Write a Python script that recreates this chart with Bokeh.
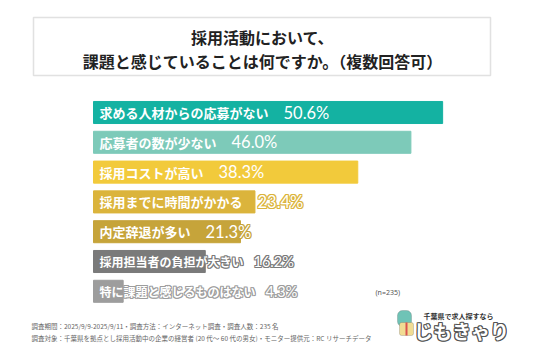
from bokeh.plotting import figure
from bokeh.models import Range1d, ColumnDataSource, Label, BoxAnnotation
from bokeh.core.properties import value
from bokeh.embed import file_html
from bokeh.resources import INLINE

categories = ["求める人材からの応募がない", "応募者の数が少ない", "採用コストが高い",
              "採用までに時間がかかる", "内定辞退が多い", "採用担当者の負担が大きい",
              "特に課題と感じるものはない"]
values = [50.6, 46.0, 38.3, 23.4, 21.3, 16.2, 4.3]
colors = ["#14b2a2", "#7dcab9", "#f2ca3b", "#dbb43c", "#c6a43a", "#7a7a7a", "#9d9d9d"]
title_lines = ["採用活動において、", "課題と感じていることは何ですか。（複数回答可）"]
footer_lines = ["調査期間：2025/9/9-2025/9/11・調査方法：インターネット調査・調査人数：235 名",
                "調査対象：千葉県を拠点とし採用活動中の企業の経営者 (20 代～ 60 代の男女)・モニター提供元：RC リサーチデータ"]
n_label = "(n=235)"

# styling per row (label sizes)
cat_sizes = [13, 13, 13, 13, 13, 12, 12]
pct_sizes = [16.5, 16.5, 16.5, 16.5, 16.5, 14.5, 14.5]
gaps = [15, 15, 15, 15, 15, 10, 10]

W, H = 536, 357
PX_PER_PCT = 6.9
BAR_X0 = 93
PITCH = 29.8
ROW0 = 112

JP = "Noto Sans CJK JP"

p = figure(width=W, height=H, output_backend="svg", toolbar_location=None,
           x_range=Range1d(-BAR_X0 / PX_PER_PCT, (W - BAR_X0) / PX_PER_PCT),
           y_range=Range1d((H - ROW0) / PITCH, -ROW0 / PITCH),
           min_border=0, outline_line_color=None)
p.axis.visible = False
p.grid.visible = False
p.background_fill_color = "white"
p.border_fill_color = "white"

ys = list(range(len(categories)))
data = dict(y=ys, v=values, c=colors, cat=categories,
            pct=[f"{v:.1f}%" for v in values],
            zero=[0] * len(values),
            cs=[f"{s}px" for s in cat_sizes],
            ps=[f"{s}px" for s in pct_sizes])
pct_base = [6 + len(c) * s + g for c, s, g in zip(categories, cat_sizes, gaps)]
offsets = [(-1, 0), (1, 0), (0, -1), (0, 1), (-1, -1), (1, 1), (-1, 1), (1, -1)]
for k, (dx, dy) in enumerate(offsets):
    data[f"cx{k}"] = [6 + dx] * len(values)
    data[f"px{k}"] = [b + dx for b in pct_base]
data["cx"] = [6] * len(values)
data["px"] = pct_base
src = ColumnDataSource(data)

p.hbar(y="y", left=0, right="v", height=0.74, fill_color="c", line_color="c", source=src)

for k, (dx, dy) in enumerate(offsets):
    p.text(x="zero", y="y", text="cat", x_offset=f"cx{k}", y_offset=dy, source=src,
           text_font=value(JP), text_font_style="bold", text_font_size="cs",
           text_color="c", text_baseline="middle", text_align="left")
    p.text(x="zero", y="y", text="pct", x_offset=f"px{k}", y_offset=dy, source=src,
           text_font=value("Lato"), text_font_size="ps",
           text_color="c", text_baseline="middle", text_align="left")
p.text(x="zero", y="y", text="cat", x_offset="cx", source=src,
       text_font=value(JP), text_font_style="bold", text_font_size="cs",
       text_color="white", text_baseline="middle", text_align="left")
p.text(x="zero", y="y", text="pct", x_offset="px", source=src,
       text_font=value("Lato"), text_font_size="ps",
       text_color="white", text_baseline="middle", text_align="left")

# title box
p.add_layout(BoxAnnotation(left=33, right=490, top=H - 17, bottom=H - 75,
                           left_units="screen", right_units="screen",
                           top_units="screen", bottom_units="screen",
                           fill_color=None, line_color="#9a9a9a", line_width=1.5))
for i, t in enumerate(title_lines):
    p.add_layout(Label(x=262, y=H - 36 - i * 24, x_units="screen", y_units="screen",
                       text=t, text_font=JP, text_font_style="bold",
                       text_font_size="16px", text_color="#222222",
                       text_align="center", text_baseline="middle"))

for i, t in enumerate(footer_lines):
    p.add_layout(Label(x=31, y=H - 325 - i * 12, x_units="screen", y_units="screen",
                       text=t, text_font=JP, text_font_size="6.5px",
                       text_color="#666666", text_align="left", text_baseline="middle"))

p.add_layout(Label(x=375, y=H - 292, x_units="screen", y_units="screen",
                   text=n_label, text_font="Noto Sans", text_font_size="7px",
                   text_color="#555555", text_align="left", text_baseline="middle"))

# logo
p.add_layout(Label(x=458, y=H - 315, x_units="screen", y_units="screen",
                   text="千葉県で求人探すなら", text_font=JP, text_font_style="bold",
                   text_font_size="7px", text_color="#333333",
                   text_align="center", text_baseline="middle"))
for dx, dy in offsets:
    p.add_layout(Label(x=461 + dx, y=H - 330 + dy, x_units="screen", y_units="screen",
                       text="じもきゃり", text_font=JP, text_font_style="bold",
                       text_font_size="19px", text_color="#555555",
                       text_align="center", text_baseline="middle"))
p.add_layout(Label(x=461, y=H - 330, x_units="screen", y_units="screen",
                   text="じもきゃり", text_font=JP, text_font_style="bold",
                   text_font_size="19px", text_color="white",
                   text_align="center", text_baseline="middle"))
p.add_layout(BoxAnnotation(left=397, right=411, top=H - 310, bottom=H - 326,
                           left_units="screen", right_units="screen",
                           top_units="screen", bottom_units="screen",
                           fill_color="#6fc3b6", fill_alpha=1, line_color="#555555",
                           line_width=0.8, border_radius=5))
p.add_layout(BoxAnnotation(left=399, right=413, top=H - 322, bottom=H - 335,
                           left_units="screen", right_units="screen",
                           top_units="screen", bottom_units="screen",
                           fill_color="#f1dc93", fill_alpha=1, line_color="#555555",
                           line_width=0.8, border_radius=2))
p.add_layout(BoxAnnotation(left=405, right=407, top=H - 322, bottom=H - 335,
                           left_units="screen", right_units="screen",
                           top_units="screen", bottom_units="screen",
                           fill_color="#d9534f", fill_alpha=1, line_color=None))

open("out.html", "w").write(file_html(p, INLINE))
